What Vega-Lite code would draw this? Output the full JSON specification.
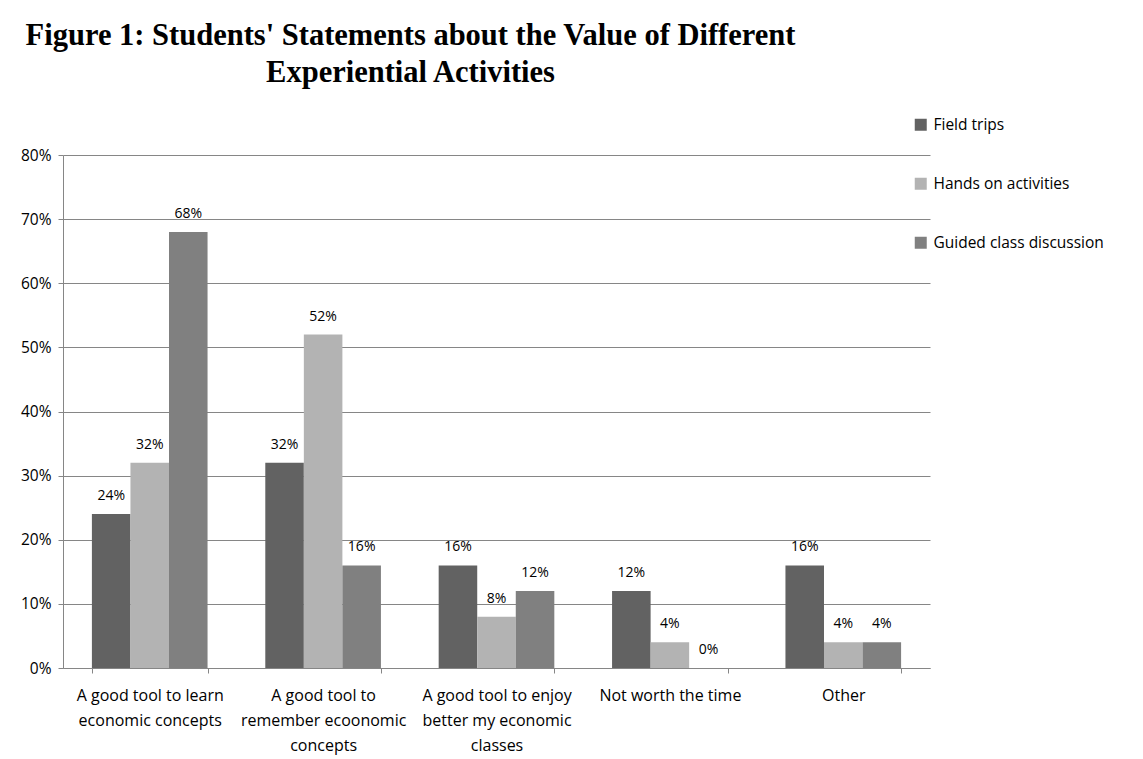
{
  "$schema": "https://vega.github.io/schema/vega-lite/v6.json",
  "width": 867,
  "height": 513,
  "autosize": {"type": "none"},
  "padding": {"left": 63, "top": 155, "right": 213, "bottom": 91},
  "background": "white",
  "title": {
    "text": ["Figure 1: Students' Statements about the Value of Different", "Experiential Activities"],
    "font": "Liberation Serif",
    "fontSize": 30.5,
    "fontWeight": "bold",
    "color": "black",
    "anchor": "middle",
    "dx": -86,
    "offset": 29,
    "lineHeight": 37
  },
  "data": {
    "values": [
      {"statement": "A good tool to learn economic concepts", "activity": "Field trips", "value": 0.24},
      {"statement": "A good tool to learn economic concepts", "activity": "Hands on activities", "value": 0.32},
      {"statement": "A good tool to learn economic concepts", "activity": "Guided class discussion", "value": 0.68},
      {"statement": "A good tool to remember ecoonomic concepts", "activity": "Field trips", "value": 0.32},
      {"statement": "A good tool to remember ecoonomic concepts", "activity": "Hands on activities", "value": 0.52},
      {"statement": "A good tool to remember ecoonomic concepts", "activity": "Guided class discussion", "value": 0.16},
      {"statement": "A good tool to enjoy better my economic classes", "activity": "Field trips", "value": 0.16},
      {"statement": "A good tool to enjoy better my economic classes", "activity": "Hands on activities", "value": 0.08},
      {"statement": "A good tool to enjoy better my economic classes", "activity": "Guided class discussion", "value": 0.12},
      {"statement": "Not worth the time", "activity": "Field trips", "value": 0.12},
      {"statement": "Not worth the time", "activity": "Hands on activities", "value": 0.04},
      {"statement": "Not worth the time", "activity": "Guided class discussion", "value": 0.0},
      {"statement": "Other", "activity": "Field trips", "value": 0.16},
      {"statement": "Other", "activity": "Hands on activities", "value": 0.04},
      {"statement": "Other", "activity": "Guided class discussion", "value": 0.04}
    ]
  },
  "encoding": {
    "x": {
      "field": "statement",
      "type": "nominal",
      "sort": ["A good tool to learn economic concepts", "A good tool to remember ecoonomic concepts", "A good tool to enjoy better my economic classes", "Not worth the time", "Other"],
      "scale": {"paddingInner": 0.333, "paddingOuter": 0.1667},
      "axis": {
        "title": null,
        "labelAngle": 0,
        "labelFont": "Open Sans",
        "labelFontSize": 16,
        "labelColor": "black",
        "labelLineHeight": 25,
        "labelPadding": 14,
        "labelLimit": 250,
        "domainColor": "#868686",
        "tickColor": "#868686",
        "tickSize": 5,
        "tickBand": "extent",
        "labelExpr": "datum.value == 'A good tool to learn economic concepts' ? ['A good tool to learn', 'economic concepts'] : datum.value == 'A good tool to remember ecoonomic concepts' ? ['A good tool to', 'remember ecoonomic', 'concepts'] : datum.value == 'A good tool to enjoy better my economic classes' ? ['A good tool to enjoy', 'better my economic', 'classes'] : datum.value"
      }
    },
    "xOffset": {
      "field": "activity",
      "type": "nominal",
      "sort": ["Field trips", "Hands on activities", "Guided class discussion"],
      "scale": {"paddingInner": 0, "paddingOuter": 0}
    },
    "y": {
      "field": "value",
      "type": "quantitative",
      "scale": {"domain": [0, 0.8], "nice": false},
      "axis": {
        "title": null,
        "format": ".0%",
        "values": [0, 0.1, 0.2, 0.3, 0.4, 0.5, 0.6, 0.7, 0.8],
        "labelFont": "Open Sans",
        "labelFontSize": 15.5,
        "labelColor": "black",
        "labelPadding": 7,
        "domainColor": "#868686",
        "tickColor": "#868686",
        "tickSize": 5,
        "gridColor": "#868686",
        "gridWidth": 1
      }
    }
  },
  "layer": [
    {
      "mark": {"type": "bar"},
      "encoding": {
        "color": {
          "field": "activity",
          "type": "nominal",
          "sort": ["Field trips", "Hands on activities", "Guided class discussion"],
          "scale": {"domain": ["Field trips", "Hands on activities", "Guided class discussion"], "range": ["#626262", "#b3b3b3", "#808080"]},
          "legend": {
            "title": null,
            "orient": "none",
            "legendX": 850,
            "legendY": -38,
            "padding": 0,
            "symbolType": "square",
            "symbolSize": 144,
            "symbolStrokeWidth": 0,
            "labelFont": "Open Sans",
            "labelFontSize": 15.5,
            "labelColor": "black",
            "labelOffset": 5,
            "labelLimit": 300,
            "rowPadding": 42
          }
        }
      }
    },
    {
      "mark": {"type": "text", "dy": -18, "font": "Open Sans", "fontSize": 14, "color": "black", "baseline": "middle"},
      "encoding": {
        "text": {"field": "value", "type": "quantitative", "format": ".0%"}
      }
    }
  ],
  "config": {
    "view": {"stroke": null}
  }
}
